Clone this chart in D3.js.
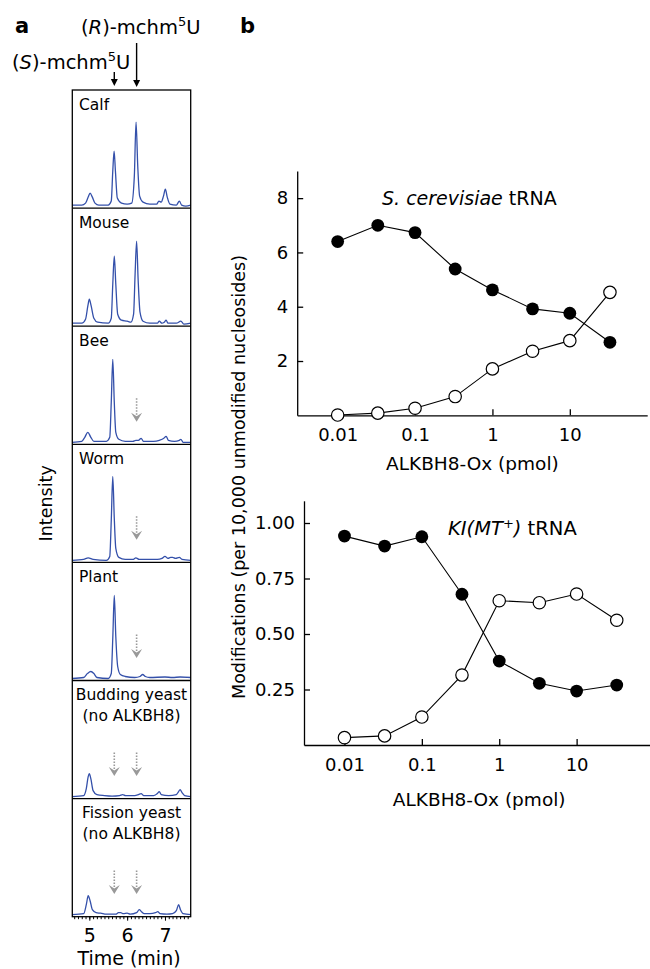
<!DOCTYPE html>
<html>
<head>
<meta charset="utf-8">
<script src="https://cdn.jsdelivr.net/npm/d3@7"></script>
<style>
body { margin: 0; background: #fff; }
svg { display: block; font-family: "DejaVu Sans", sans-serif; }
</style>
</head>
<body>
<svg id="fig" width="650" height="969"></svg>
<script>
// ---- panel a: chromatograms, [time (min), signal] ----
var panelNames = [['Calf'], ['Mouse'], ['Bee'], ['Worm'], ['Plant'],
    ['Budding yeast', '(no ALKBH8)'], ['Fission yeast', '(no ALKBH8)']];

var calfTrace = [[4.55,1],[4.8,1],[4.9,3],[4.97,9],[5.02,13],[5.08,9],[5.15,3],[5.25,1],[5.5,1],[5.58,5],[5.62,35],[5.655,55],[5.69,35],[5.74,8],[5.85,3],[6.0,2],[6.12,3],[6.19,30],[6.235,84],[6.28,40],[6.33,10],[6.42,4],[6.6,2],[6.78,2],[6.84,5],[6.9,4],[6.96,10],[7.01,17],[7.06,9],[7.13,2],[7.3,1],[7.38,5],[7.44,1],[7.55,0],[7.68,1]];
var mouseTrace = [[4.55,1],[4.8,1],[4.9,5],[4.96,18],[5.0,25],[5.05,18],[5.12,6],[5.22,2],[5.5,1],[5.58,6],[5.62,40],[5.66,68],[5.7,40],[5.75,10],[5.85,4],[6.0,3],[6.1,2],[6.17,10],[6.21,50],[6.25,83],[6.29,45],[6.34,12],[6.42,3],[6.6,1],[6.8,1],[6.85,3],[6.92,1],[6.98,2],[7.03,4],[7.08,1],[7.3,1],[7.42,3],[7.5,0],[7.68,1]];
var beeTrace = [[4.55,0],[4.8,1],[4.88,5],[4.96,10],[5.04,5],[5.12,1],[5.45,1],[5.54,5],[5.58,40],[5.62,83],[5.66,40],[5.7,10],[5.78,3],[5.95,1],[6.15,1],[6.23,2],[6.3,2],[6.37,4],[6.43,1],[6.7,1],[6.85,2],[6.97,4],[7.03,6],[7.09,2],[7.25,1],[7.38,2],[7.42,3],[7.48,0],[7.68,0]];
var wormTrace = [[4.55,0],[4.85,1],[4.97,2.5],[5.1,1],[5.45,0],[5.54,4],[5.58,40],[5.62,84],[5.66,42],[5.7,12],[5.78,3],[5.95,1],[6.15,1],[6.23,2.5],[6.32,1],[6.8,1],[6.92,2],[7.0,4],[7.08,2],[7.15,3],[7.2,3],[7.28,2],[7.38,3],[7.45,1],[7.68,0]];
var plantTrace = [[4.55,0],[4.85,1],[4.95,5],[5.04,7],[5.12,5],[5.2,1],[5.5,0],[5.58,5],[5.62,40],[5.66,83],[5.7,42],[5.75,12],[5.82,4],[5.95,2],[6.2,1],[6.34,2],[6.41,4],[6.48,2],[6.6,1],[7.0,1.5],[7.2,1],[7.4,1.5],[7.68,1]];
var buddingTrace = [[4.55,0],[4.85,1],[4.92,8],[4.97,20],[5.0,23],[5.04,18],[5.1,6],[5.2,2],[5.4,1],[5.6,0.5],[5.8,1],[5.88,2],[5.96,1],[6.2,1],[6.3,2],[6.37,3],[6.44,1],[6.7,1],[6.8,3],[6.85,5],[6.9,2],[7.1,1],[7.3,2],[7.36,5],[7.4,7],[7.45,4],[7.52,1],[7.68,0]];
var fissionTrace = [[4.55,0],[4.85,1],[4.92,10],[4.97,19],[5.02,14],[5.08,5],[5.18,2],[5.3,1.5],[5.45,0.5],[5.7,0.5],[5.77,2],[5.83,2],[5.9,1],[6.0,1.5],[6.08,0.5],[6.25,2],[6.32,5],[6.38,3],[6.45,1],[6.6,1],[6.75,2],[6.81,3],[6.87,1],[7.05,0.5],[7.2,1],[7.3,4],[7.36,10],[7.41,5],[7.48,1],[7.68,0]];
var traces = [calfTrace, mouseTrace, beeTrace, wormTrace, plantTrace, buddingTrace, fissionTrace];

var sPeak = 5.66, rPeak = 6.25;
var missingPeaks = [[], [], [rPeak], [rPeak], [rPeak], [sPeak, rPeak], [sPeak, rPeak]];
var timeTicks = [5, 6, 7];

// ---- panel b: ALKBH8-Ox titration ----
var doses = [0.01, 0.033, 0.1, 0.33, 1, 3.3, 10, 33];
var scFilled = [6.4, 7.0, 6.73, 5.39, 4.62, 3.92, 3.76, 2.69];
var scOpen = [0.01, 0.08, 0.26, 0.69, 1.71, 2.36, 2.75, 4.53];
var klFilled = [0.941, 0.896, 0.938, 0.679, 0.378, 0.278, 0.243, 0.270];
var klOpen = [0.033, 0.041, 0.126, 0.315, 0.650, 0.641, 0.680, 0.562];
var doseTicks = [0.01, 0.1, 1, 10];
var scTicks = [2, 4, 6, 8];
var klTicks = [0.25, 0.5, 0.75, 1.0];

var svg = d3.select('#fig');

// panel letters
svg.append('text').attr('x', 15).attr('y', 33).attr('font-size', 21).attr('font-weight', 'bold').text('a');
svg.append('text').attr('x', 240).attr('y', 33).attr('font-size', 21).attr('font-weight', 'bold').text('b');

// ---------------- panel a ----------------
var boxLeft = 72.3, boxRight = 190.7, boxTop = 90, panelH = 118.1;
var nPanels = panelNames.length;
var boxBottom = boxTop + nPanels * panelH;

var t = d3.scaleLinear().domain([4.55, 7.68]).range([boxLeft, boxRight]);

// header labels with arrows
function mchmLabel(x, y, letter) {
    var txt = svg.append('text').attr('x', x).attr('y', y).attr('font-size', 19.5);
    txt.append('tspan').text('(');
    txt.append('tspan').attr('font-style', 'italic').text(letter);
    txt.append('tspan').text(')-mchm');
    txt.append('tspan').attr('font-size', 13).attr('dy', -8).text('5');
    txt.append('tspan').attr('dy', 8).text('U');
}
mchmLabel(81, 34.3, 'R');
mchmLabel(12, 69, 'S');

function blackArrow(x, y0, y1) {
    svg.append('line').attr('x1', x).attr('x2', x).attr('y1', y0).attr('y2', y1 - 4)
        .attr('stroke', '#000').attr('stroke-width', 1.4);
    svg.append('path')
        .attr('d', 'M' + (x - 3.5) + ',' + (y1 - 7) + 'L' + x + ',' + y1 + 'L' + (x + 3.5) + ',' + (y1 - 7) + 'Z')
        .attr('fill', '#000');
}
blackArrow(t(rPeak), 43, 87);
blackArrow(t(sPeak), 72, 86);

var trace = d3.line().curve(d3.curveMonotoneX);

panelNames.forEach(function(names, i) {
    var top = boxTop + i * panelH;
    var bottom = top + panelH;
    var y = d3.scaleLinear().domain([0, 100]).range([bottom - 2, bottom - 102]);

    svg.append('path')
        .attr('d', trace.x(function(d) { return t(d[0]); }).y(function(d) { return y(d[1]); })(traces[i]))
        .attr('fill', 'none')
        .attr('stroke', '#3450aa')
        .attr('stroke-width', 1.3);

    if (names.length === 1) {
        svg.append('text').attr('x', 79).attr('y', top + 20).attr('font-size', 15.5).text(names[0]);
    } else {
        names.forEach(function(n, k) {
            svg.append('text').attr('x', (boxLeft + boxRight) / 2).attr('y', top + 19 + k * 21.5)
                .attr('text-anchor', 'middle').attr('font-size', 15.5).text(n);
        });
    }

    // grey dotted arrows where a diastereomer is missing
    missingPeaks[i].forEach(function(p) {
        var x = t(p), tip = top + 95.5;
        svg.append('line').attr('x1', x).attr('x2', x).attr('y1', top + 72).attr('y2', tip - 7)
            .attr('stroke', '#999').attr('stroke-width', 1.6).attr('stroke-dasharray', '1.5,1.5');
        svg.append('path')
            .attr('d', 'M' + (x - 5.5) + ',' + (tip - 9) + 'L' + x + ',' + tip + 'L' + (x + 5.5) + ',' + (tip - 9) + 'L' + x + ',' + (tip - 5.5) + 'Z')
            .attr('fill', '#999');
    });

    if (i > 0) {
        svg.append('line').attr('x1', boxLeft).attr('x2', boxRight).attr('y1', top).attr('y2', top)
            .attr('stroke', '#000').attr('stroke-width', 1.3);
    }
});

svg.append('rect')
    .attr('x', boxLeft).attr('y', boxTop)
    .attr('width', boxRight - boxLeft).attr('height', boxBottom - boxTop)
    .attr('fill', 'none').attr('stroke', '#000').attr('stroke-width', 1.3);

// time axis: minor ticks then labelled ticks
svg.append('g')
    .attr('transform', 'translate(0,' + boxBottom + ')')
    .call(d3.axisBottom(t).tickValues(d3.range(4.6, 7.65, 0.1)).tickSize(2.5).tickFormat(''))
    .call(function(g) { g.select('.domain').remove(); });
var tAxis = svg.append('g')
    .attr('transform', 'translate(0,' + boxBottom + ')')
    .call(d3.axisBottom(t).tickValues(timeTicks).tickSize(4).tickPadding(8).tickFormat(d3.format('d')));
tAxis.select('.domain').remove();
tAxis.selectAll('text').attr('font-size', 19).attr('font-family', 'DejaVu Sans').attr('fill', '#000');

svg.append('text').attr('x', 129).attr('y', 965).attr('text-anchor', 'middle')
    .attr('font-size', 19).text('Time (min)');
svg.append('text')
    .attr('transform', 'translate(52,' + (boxTop + boxBottom) / 2 + ') rotate(-90)')
    .attr('text-anchor', 'middle').attr('font-size', 17.5).text('Intensity');

// ---------------- panel b ----------------
function drawChart(opt) {
    var x = d3.scaleLog().domain([0.003, 100]).range([opt.left, opt.left + 350]);
    var y = d3.scaleLinear().domain(opt.yDomain).range([opt.bottom, opt.top]);
    var g = svg.append('g');

    var xAxis = g.append('g').attr('transform', 'translate(0,' + opt.bottom + ')')
        .call(d3.axisBottom(x).tickValues(doseTicks).tickSizeInner(-6).tickSizeOuter(0).tickPadding(13)
            .tickFormat(function(d) { return d < 1 ? d3.format('')(d) : d3.format('d')(d); }));
    var yAxis = g.append('g').attr('transform', 'translate(' + opt.left + ',0)')
        .call(d3.axisLeft(y).tickValues(opt.yTicks).tickSizeInner(-6).tickSizeOuter(0).tickPadding(9)
            .tickFormat(opt.yFormat));
    [xAxis, yAxis].forEach(function(a) {
        a.selectAll('path, line').attr('stroke', '#000').attr('stroke-width', 1.3);
        a.selectAll('text').attr('font-size', 18).attr('font-family', 'DejaVu Sans').attr('fill', '#000');
    });

    var ln = d3.line().x(function(d, i) { return x(doses[i]); }).y(function(d) { return y(d); });
    [opt.filled, opt.open].forEach(function(s) {
        g.append('path').attr('d', ln(s)).attr('fill', 'none').attr('stroke', '#000').attr('stroke-width', 1.1);
    });
    g.selectAll('.open').data(opt.open).enter().append('circle')
        .attr('cx', function(d, i) { return x(doses[i]); })
        .attr('cy', function(d) { return y(d); })
        .attr('r', 6.2).attr('fill', '#fff').attr('stroke', '#000').attr('stroke-width', 1.2);
    g.selectAll('.filled').data(opt.filled).enter().append('circle')
        .attr('cx', function(d, i) { return x(doses[i]); })
        .attr('cy', function(d) { return y(d); })
        .attr('r', 6.4).attr('fill', '#000');

    g.append('text').attr('x', x(1) - 20).attr('y', opt.bottom + opt.labelDy)
        .attr('text-anchor', 'middle').attr('font-size', 18.5).text('ALKBH8-Ox (pmol)');
    return g;
}

var top1 = drawChart({left: 297.2, top: 171, bottom: 415.3, yDomain: [0, 9], yTicks: scTicks,
    yFormat: d3.format('d'), filled: scFilled, open: scOpen, labelDy: 55});
var t1 = top1.append('text').attr('x', 382).attr('y', 205).attr('font-size', 19);
t1.append('tspan').attr('font-style', 'italic').text('S. cerevisiae');
t1.append('tspan').text(' tRNA');

var bot1 = drawChart({left: 304, top: 500.8, bottom: 745, yDomain: [0, 1.1], yTicks: klTicks,
    yFormat: d3.format('.2f'), filled: klFilled, open: klOpen, labelDy: 61});
var t2 = bot1.append('text').attr('x', 448).attr('y', 535).attr('font-size', 19.5);
t2.append('tspan').attr('font-style', 'italic').text('KI(MT');
t2.append('tspan').attr('font-size', 13).attr('dy', -7).text('+');
t2.append('tspan').attr('font-style', 'italic').attr('dy', 7).text(')');
t2.append('tspan').text(' tRNA');

svg.append('text')
    .attr('transform', 'translate(245,477) rotate(-90)')
    .attr('text-anchor', 'middle').attr('font-size', 17.5)
    .text('Modifications (per 10,000 unmodified nucleosides)');
</script>
</body>
</html>
